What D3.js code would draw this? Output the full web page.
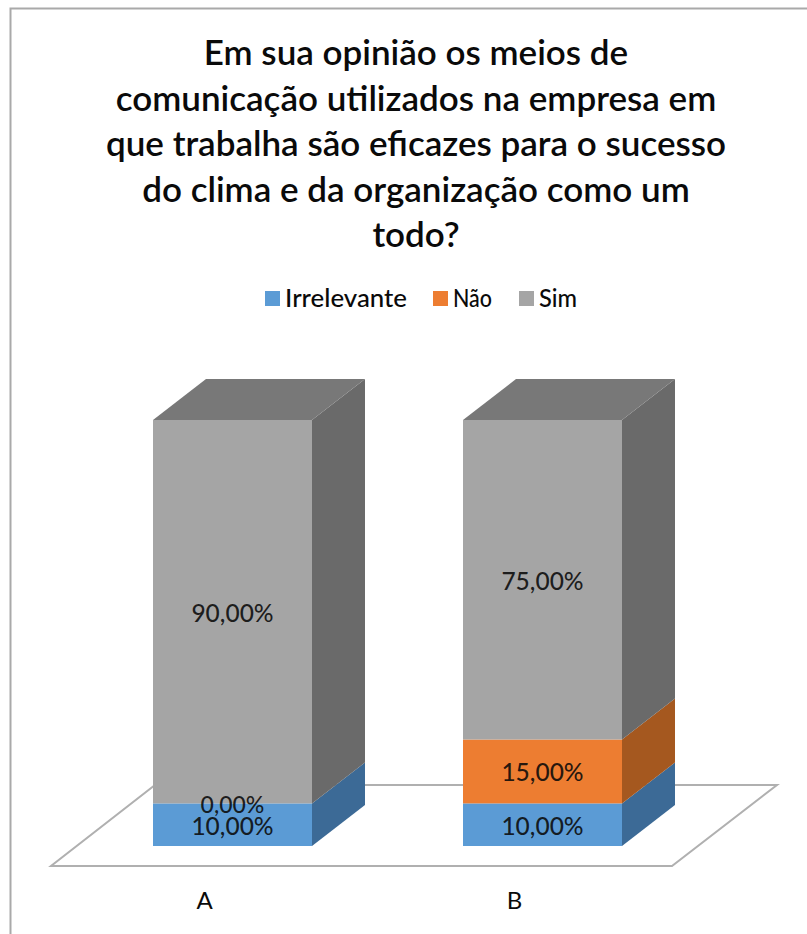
<!DOCTYPE html>
<html lang="pt">
<head>
<meta charset="utf-8">
<script src="https://cdn.jsdelivr.net/npm/d3@7"></script>
<style>
html,body{margin:0;padding:0;background:#fff}
svg{display:block}
text{font-family:Lato,"Open Sans",sans-serif;fill:#0a0a0a}
</style>
</head>
<body>
<svg id="chart" width="807" height="934"></svg>
<script>
const titleLines = [
  "Em sua opinião os meios de",
  "comunicação utilizados na empresa em",
  "que trabalha são eficazes para o sucesso",
  "do clima e da organização como um",
  "todo?"
];
const categories = ["A", "B"];
const seriesNames = ["Irrelevante", "Não", "Sim"];
const irrelevante = [10, 10];
const nao = [0, 15];
const sim = [90, 75];

const frontColors = ["#5b9bd5", "#ed7d31", "#a5a5a5"];
const sideColors = ["#3c6a96", "#a5581f", "#6a6a6a"];
const topColor = "#787878";

const svg = d3.select("#chart");

// Outer chart-area border, open to the right and bottom edges of the page
svg.append("path")
  .attr("d", "M10.5,934V8.5H807")
  .attr("fill", "none").attr("stroke", "#a9a9a9").attr("stroke-width", 2);

// Title
svg.append("g").selectAll("text").data(titleLines).join("text")
  .attr("x", 416)
  .attr("y", (d, i) => 65 + i * 45.5)
  .attr("text-anchor", "middle")
  .attr("font-size", 35)
  .attr("font-weight", 600)
  .text(d => d);

// Scales
const y = d3.scaleLinear().domain([0, 100]).range([846, 420]);
const x = d3.scalePoint().domain(categories).range([153, 463]);
const barW = 159;
const depthX = 53, depthY = 41;

const rows = categories.map((c, i) => ({
  category: c,
  [seriesNames[0]]: irrelevante[i],
  [seriesNames[1]]: nao[i],
  [seriesNames[2]]: sim[i]
}));
const layers = d3.stack().keys(seriesNames)(rows);

// Floor plane of the 3D plot
const floorFrontY = 866, floorBackY = 785;
svg.append("path")
  .attr("d", d3.line()([[51, floorFrontY], [672, floorFrontY], [777, floorBackY], [155, floorBackY]]) + "Z")
  .attr("fill", "#fff").attr("stroke", "#b0b0b0").attr("stroke-width", 2);

// Bars: front face, side face and, on the last series, the top face
layers.forEach((layer, li) => {
  const g = svg.append("g");
  layer.forEach(d => {
    const x0 = x(d.data.category), x1 = x0 + barW;
    const yTop = y(d[1]), yBot = y(d[0]);
    g.append("path")
      .attr("d", d3.line()([[x1, yBot], [x1 + depthX, yBot - depthY], [x1 + depthX, yTop - depthY], [x1, yTop]]) + "Z")
      .attr("fill", sideColors[li]);
    g.append("rect")
      .attr("x", x0).attr("y", yTop)
      .attr("width", barW).attr("height", yBot - yTop)
      .attr("fill", frontColors[li]);
    if (li === layers.length - 1) {
      g.append("path")
        .attr("d", d3.line()([[x0, yTop], [x0 + depthX, yTop - depthY], [x1 + depthX, yTop - depthY], [x1, yTop]]) + "Z")
        .attr("fill", topColor);
    }
  });
});

// Value labels; a zero segment's label sits on the segment's own baseline
const pct = v => d3.format(".2f")(v).replace(".", ",") + "%";
layers.forEach(layer => {
  layer.forEach(d => {
    const v = d[1] - d[0];
    svg.append("text")
      .attr("x", x(d.data.category) + barW / 2)
      .attr("y", v === 0 ? y(d[0]) + 10 : (y(d[0]) + y(d[1])) / 2 + 10)
      .attr("text-anchor", "middle")
      .attr("font-size", v === 0 ? 23 : 24.5)
      .attr("font-weight", 500)
      .attr("fill-opacity", 0.88)
      .text(pct(v));
  });
});

// Category labels sit under the floor's front edge
svg.append("g").selectAll("text").data(categories).join("text")
  .attr("x", c => x(c) + barW / 2 - 28)
  .attr("y", 909)
  .attr("text-anchor", "middle")
  .attr("font-size", 24)
  .text(c => c);

// Legend
const legendX = [265, 433, 519];
const legendTextWidth = [122, 39, 38];
const legend = svg.append("g").selectAll("g").data(seriesNames).join("g")
  .attr("transform", (d, i) => `translate(${legendX[i]},291)`);
legend.append("rect")
  .attr("width", 15).attr("height", 15)
  .attr("fill", (d, i) => frontColors[i]);
legend.append("text")
  .attr("x", 20).attr("y", 16)
  .attr("font-size", 24)
  .attr("font-weight", 500)
  .attr("textLength", (d, i) => legendTextWidth[i])
  .attr("lengthAdjust", "spacingAndGlyphs")
  .text(d => d);
</script>
</body>
</html>
